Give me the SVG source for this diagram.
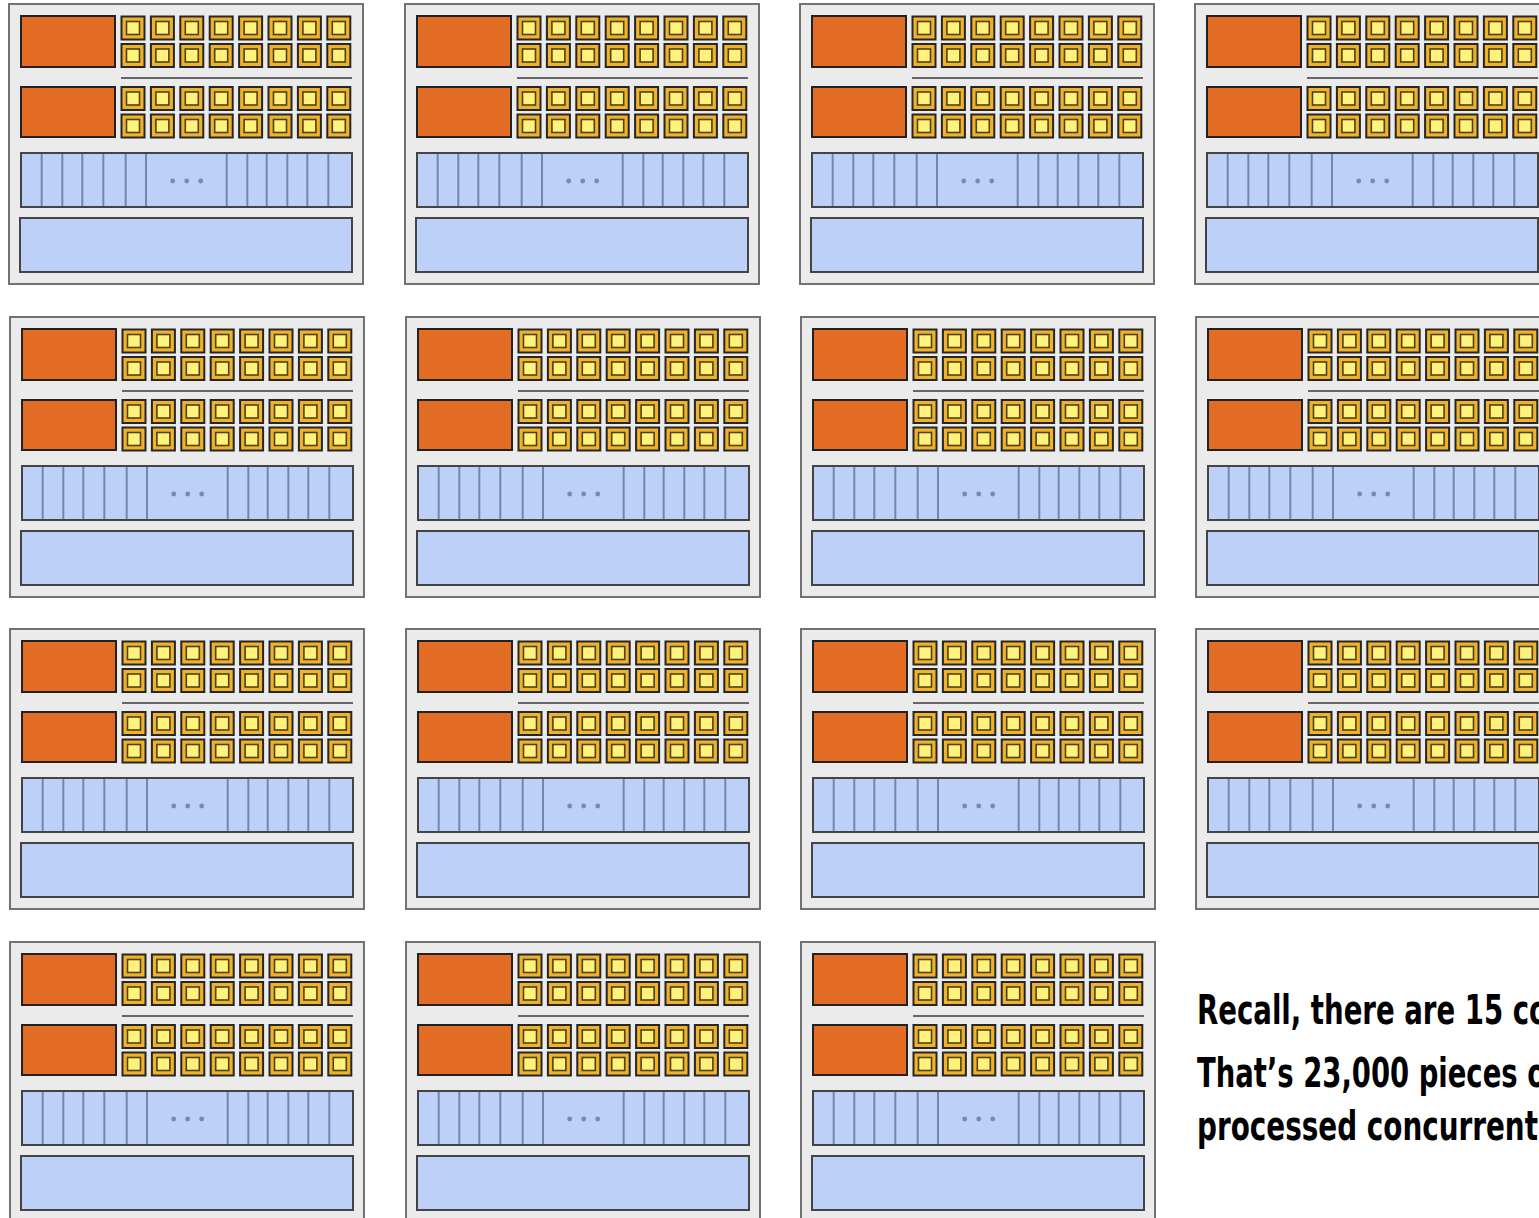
<svg xmlns="http://www.w3.org/2000/svg" xmlns:xlink="http://www.w3.org/1999/xlink" width="1539" height="1218" viewBox="0 0 1539 1218">
<style>
.frame{fill:#ebebeb;stroke:#727272;stroke-width:2}
.ctl{fill:#e36c24;stroke:#222;stroke-width:2}
.alu{fill:#f0b22a;stroke:#262626;stroke-width:2}
.alui{fill:#fff27a;stroke:#4e4218;stroke-width:1.6}
.sep{stroke:#666;stroke-width:2.2}
.reg{fill:#bdd0f7;stroke:#444;stroke-width:2}
.regl{stroke:#7088b0;stroke-width:2}
.dot{fill:#7a8aa8}
.note{font-family:"DejaVu Sans Condensed","Liberation Sans Narrow","DejaVu Sans",sans-serif;font-stretch:condensed;font-weight:bold;font-size:40px;fill:#000}
</style>
<defs>
<g id="alu">
<rect class="alu" x="0" y="0" width="23" height="23"/>
<rect class="alui" x="5" y="5" width="13" height="13"/>
</g>
<g id="alurow">
<use xlink:href="#alu" x="0"/>
<use xlink:href="#alu" x="29.4"/>
<use xlink:href="#alu" x="58.8"/>
<use xlink:href="#alu" x="88.2"/>
<use xlink:href="#alu" x="117.6"/>
<use xlink:href="#alu" x="147"/>
<use xlink:href="#alu" x="176.4"/>
<use xlink:href="#alu" x="205.8"/>
</g>
<g id="core">
<rect class="frame" x="0" y="0" width="354" height="280"/>
<rect class="ctl" x="12" y="12" width="94" height="51"/>
<rect class="ctl" x="12" y="83" width="94" height="50"/>
<use xlink:href="#alurow" x="112.5" y="12.5"/>
<use xlink:href="#alurow" x="112.5" y="40"/>
<use xlink:href="#alurow" x="112.5" y="83"/>
<use xlink:href="#alurow" x="112.5" y="110.5"/>
<line class="sep" x1="112" y1="74" x2="343" y2="74"/>
<rect class="reg" x="12" y="149" width="331" height="54"/>
<g class="regl">
<line x1="32.7" y1="149" x2="32.7" y2="203"/>
<line x1="53.3" y1="149" x2="53.3" y2="203"/>
<line x1="73.3" y1="149" x2="73.3" y2="203"/>
<line x1="94.3" y1="149" x2="94.3" y2="203"/>
<line x1="116.7" y1="149" x2="116.7" y2="203"/>
<line x1="137" y1="149" x2="137" y2="203"/>
<line x1="217.7" y1="149" x2="217.7" y2="203"/>
<line x1="238.3" y1="149" x2="238.3" y2="203"/>
<line x1="257.7" y1="149" x2="257.7" y2="203"/>
<line x1="278.3" y1="149" x2="278.3" y2="203"/>
<line x1="298.3" y1="149" x2="298.3" y2="203"/>
<line x1="319.3" y1="149" x2="319.3" y2="203"/>
</g>
<rect class="reg" x="12" y="149" width="331" height="54" style="fill:none"/>
<circle class="dot" cx="163.7" cy="177" r="2.4"/>
<circle class="dot" cx="177.7" cy="177" r="2.4"/>
<circle class="dot" cx="191.7" cy="177" r="2.4"/>
<rect class="reg" x="11" y="214" width="332" height="54"/>
</g>
</defs>
<g id="core-r1c1"><use xlink:href="#core" x="9" y="4"/></g>
<g id="core-r1c2"><use xlink:href="#core" x="405" y="4"/></g>
<g id="core-r1c3"><use xlink:href="#core" x="800" y="4"/></g>
<g id="core-r1c4"><use xlink:href="#core" x="1195" y="4"/></g>
<g id="core-r2c1"><use xlink:href="#core" x="10" y="317"/></g>
<g id="core-r2c2"><use xlink:href="#core" x="406" y="317"/></g>
<g id="core-r2c3"><use xlink:href="#core" x="801" y="317"/></g>
<g id="core-r2c4"><use xlink:href="#core" x="1196" y="317"/></g>
<g id="core-r3c1"><use xlink:href="#core" x="10" y="629"/></g>
<g id="core-r3c2"><use xlink:href="#core" x="406" y="629"/></g>
<g id="core-r3c3"><use xlink:href="#core" x="801" y="629"/></g>
<g id="core-r3c4"><use xlink:href="#core" x="1196" y="629"/></g>
<g id="core-r4c1"><use xlink:href="#core" x="10" y="942"/></g>
<g id="core-r4c2"><use xlink:href="#core" x="406" y="942"/></g>
<g id="core-r4c3"><use xlink:href="#core" x="801" y="942"/></g>
<g id="connectors"/>
<g id="note">
<text class="note" x="1197" y="1024" textLength="351" lengthAdjust="spacingAndGlyphs">Recall, there are 15 co</text>
<text class="note" x="1197" y="1087" textLength="349" lengthAdjust="spacingAndGlyphs">That’s 23,000 pieces o</text>
<text class="note" x="1197" y="1140" textLength="341" lengthAdjust="spacingAndGlyphs">processed concurrent</text>
</g>
</svg>
